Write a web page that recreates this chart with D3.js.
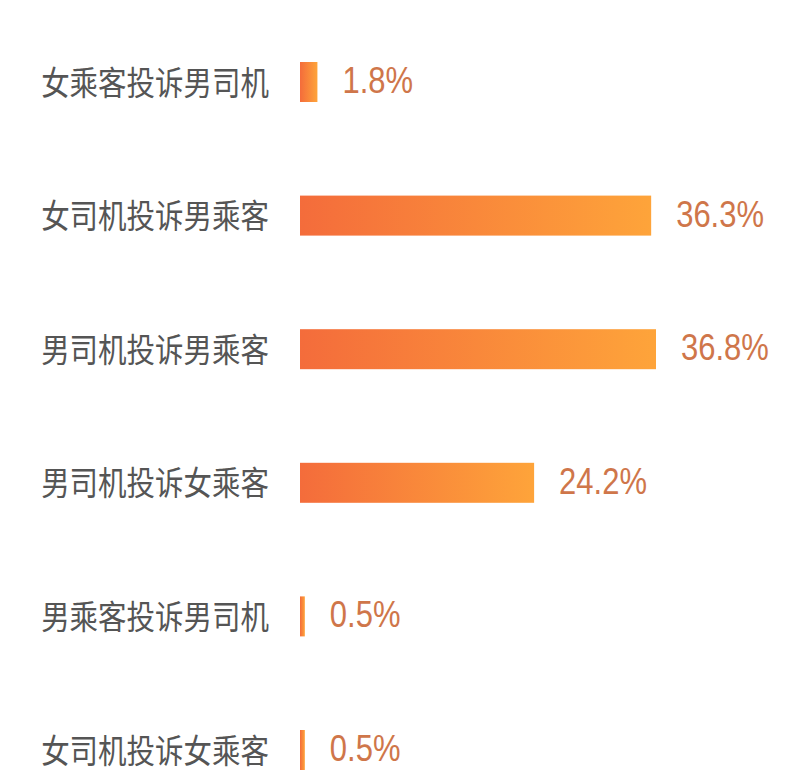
<!DOCTYPE html>
<html>
<head>
<meta charset="utf-8">
<script src="https://cdn.jsdelivr.net/npm/d3@7"></script>
<style>
  html, body { margin: 0; padding: 0; background: #fff; }
</style>
</head>
<body>
<div class="complaint-chart"></div>
<script>
'use strict';

const categories = ['女乘客投诉男司机', '女司机投诉男乘客', '男司机投诉男乘客', '男司机投诉女乘客', '男乘客投诉男司机', '女司机投诉女乘客'];
const shares = [1.8, 36.3, 36.8, 24.2, 0.5, 0.5];
const shareLabels = ['1.8%', '36.3%', '36.8%', '24.2%', '0.5%', '0.5%'];

const width = 803;
const height = 776;
const barHeight = 40;
const stretch = 1.17; // the reference text is a bit taller than wide

const svg = d3.select('.complaint-chart')
    .append('svg')
    .attr('width', width)
    .attr('height', height);

const grad = svg.append('defs').append('linearGradient')
    .attr('id', 'barFill')
    .attr('x1', '0%').attr('x2', '100%')
    .attr('y1', '0%').attr('y2', '0%');
grad.append('stop').attr('offset', '0%').attr('stop-color', '#f46c3b');
grad.append('stop').attr('offset', '100%').attr('stop-color', '#fea43a');

const x = d3.scaleLinear().domain([0, 36.8]).range([300, 656]);
const y = d3.scalePoint().domain(categories).range([82, 750]);

const rows = svg.selectAll('.row')
    .data(categories.map((c, i) => ({name: c, value: shares[i], label: shareLabels[i]})))
    .enter().append('g')
    .attr('class', 'row');

rows.append('rect')
    .attr('x', x(0))
    .attr('y', (d) => y(d.name) - barHeight / 2)
    .attr('width', (d) => x(d.value) - x(0))
    .attr('height', barHeight)
    .style('fill', 'url(#barFill)');

rows.append('text')
    .attr('transform', (d) => 'translate(269,' + (y(d.name) - 2) + ') scale(1,' + stretch + ')')
    .attr('text-anchor', 'end')
    .attr('dominant-baseline', 'central')
    .style('font-family', '"Noto Sans CJK SC", sans-serif')
    .style('font-size', '28.5px')
    .style('fill', '#555555')
    .text((d) => d.name);

rows.append('text')
    .attr('transform', (d) => 'translate(' + (x(d.value) + 25) + ',' + (y(d.name) + 11) + ') scale(1,' + stretch + ')')
    .attr('text-anchor', 'start')
    .style('font-family', '"Liberation Sans", Arial, sans-serif')
    .style('font-size', '31px')
    .style('fill', '#cf764a')
    .text((d) => d.label);
</script>
</body>
</html>
